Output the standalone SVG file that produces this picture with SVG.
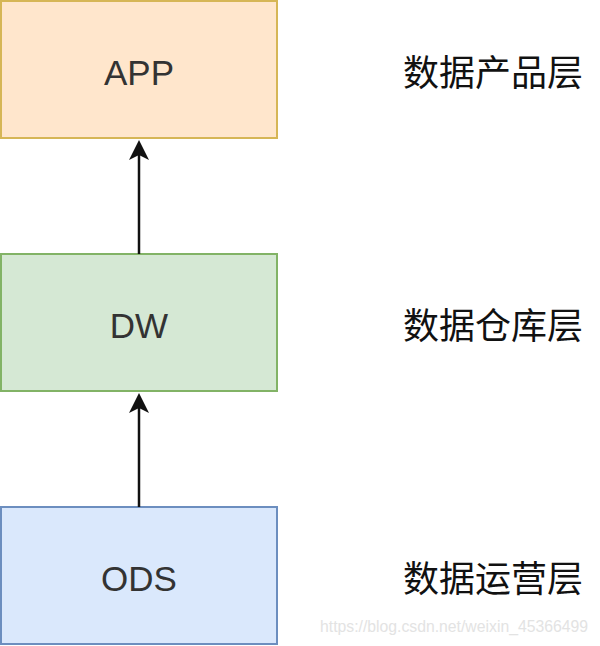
<svg xmlns="http://www.w3.org/2000/svg" width="600" height="646" viewBox="0 0 600 646">
<style>
.box{stroke-width:2}
.lbl{font-family:"Liberation Sans",Arial,sans-serif;font-size:35px;fill:#333;text-anchor:middle}
.cn{font-family:"Noto Sans CJK SC","Liberation Sans",sans-serif;font-size:36px;fill:#111}
.conn{stroke:#111;stroke-width:2.5;fill:none}
.head{fill:#111}
</style>
<rect width="600" height="646" fill="#fff"/>
<g id="app">
<rect class="box" x="1" y="1" width="276" height="137" fill="#ffe6cc" stroke="#d6b656"/>
<text class="lbl" x="139" y="85">APP</text>
</g>
<g id="dw">
<rect class="box" x="1" y="254" width="276" height="137" fill="#d5e8d4" stroke="#82b366"/>
<text class="lbl" x="139" y="338">DW</text>
</g>
<g id="ods">
<rect class="box" x="1" y="507" width="276" height="137" fill="#dae8fc" stroke="#6c8ebf"/>
<text class="lbl" x="139" y="591">ODS</text>
</g>
<g id="connectors">
<line class="conn" x1="139" y1="254" x2="139" y2="152"/>
<path class="head" d="M139,140 L149,160 L139,155 L129,160 Z"/>
<line class="conn" x1="139" y1="507" x2="139" y2="405"/>
<path class="head" d="M139,393 L149,413 L139,408 L129,413 Z"/>
</g>
<g id="labels">
<text class="cn" x="403" y="86">数据产品层</text>
<text class="cn" x="403" y="339">数据仓库层</text>
<text class="cn" x="403" y="592">数据运营层</text>
</g>
<text x="320" y="632" font-family="'Liberation Sans',Arial,sans-serif" font-size="16" textLength="268" lengthAdjust="spacingAndGlyphs" fill="#e3e3e3">https://blog.csdn.net/weixin_45366499</text>
</svg>
